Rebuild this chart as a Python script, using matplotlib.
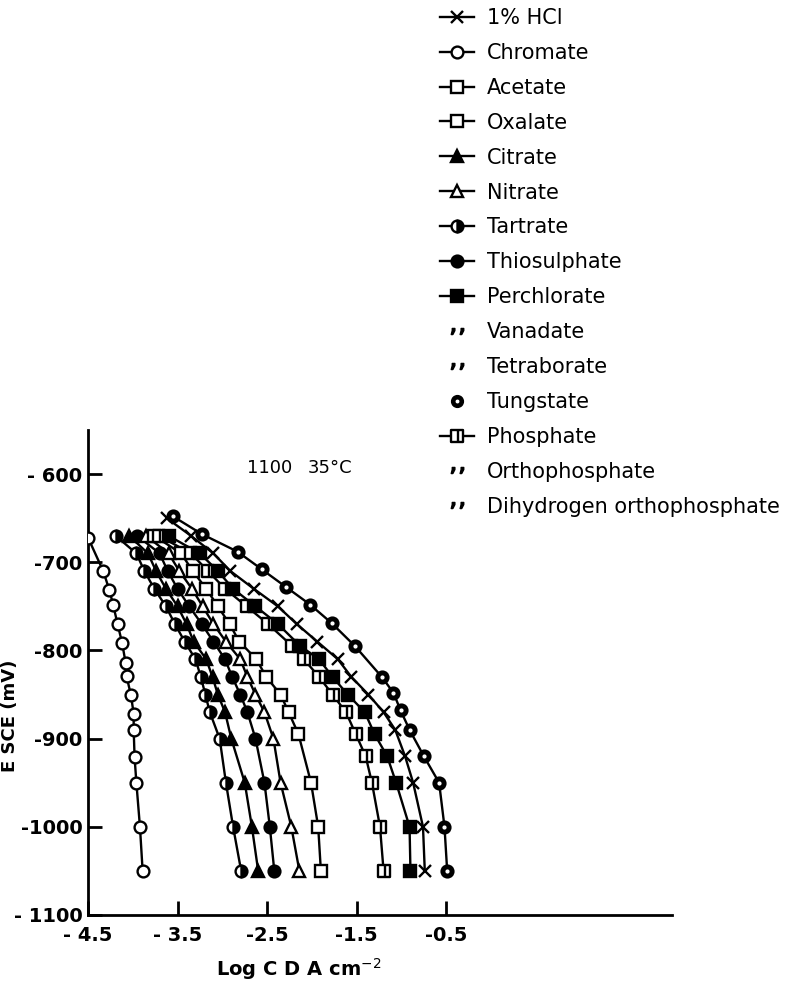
import matplotlib
matplotlib.use("Agg")
import matplotlib.pyplot as plt
from matplotlib.lines import Line2D
from matplotlib.path import Path

plt.rcParams['font.family'] = ['DejaVu Sans']

# potential (mV vs SCE) and log current density for each solution
chromate_e = [-672, -710, -732, -748, -770, -791, -814, -829, -851, -872, -890, -921, -950, -1000, -1050]
chromate_i = [-4.50, -4.33, -4.26, -4.22, -4.17, -4.12, -4.08, -4.07, -4.02, -3.99, -3.99, -3.98, -3.96, -3.92, -3.89]

left_e = [-670, -690, -710, -730, -750, -770, -790, -810, -830, -850, -870, -900, -950, -1000, -1050]
tartrate_i = [-4.19, -3.96, -3.87, -3.76, -3.63, -3.53, -3.42, -3.30, -3.24, -3.19, -3.14, -3.03, -2.96, -2.88, -2.79]
citrate_i = [-4.04, -3.83, -3.74, -3.63, -3.50, -3.40, -3.32, -3.18, -3.11, -3.05, -2.97, -2.90, -2.75, -2.67, -2.60]
thio_i = [-3.95, -3.70, -3.61, -3.50, -3.37, -3.23, -3.10, -2.97, -2.89, -2.80, -2.72, -2.63, -2.53, -2.47, -2.42]
nitrate_i = [-3.85, -3.60, -3.48, -3.34, -3.22, -3.10, -2.96, -2.80, -2.72, -2.63, -2.53, -2.43, -2.35, -2.23, -2.14]

oxalate_e = [-670, -690, -710, -730, -750, -770, -790, -810, -830, -850, -870, -895, -950, -1000, -1050]
oxalate_i = [-3.76, -3.46, -3.33, -3.18, -3.05, -2.92, -2.81, -2.62, -2.51, -2.35, -2.26, -2.15, -2.01, -1.93, -1.90]

right_e = [-670, -690, -710, -730, -750, -770, -795, -810, -830, -850, -870, -895, -920, -950, -1000, -1050]
phosphate_i = [-3.71, -3.35, -3.16, -2.97, -2.73, -2.49, -2.22, -2.09, -1.92, -1.77, -1.62, -1.51, -1.40, -1.33, -1.24, -1.20]
perchlorate_i = [-3.60, -3.25, -3.05, -2.88, -2.63, -2.38, -2.13, -1.92, -1.77, -1.60, -1.41, -1.30, -1.16, -1.06, -0.91, -0.90]

hcl_e = [-650, -670, -690, -710, -730, -750, -770, -790, -810, -830, -850, -870, -890, -920, -950, -1000, -1050]
hcl_i = [-3.62, -3.35, -3.10, -2.91, -2.65, -2.38, -2.17, -1.94, -1.71, -1.56, -1.37, -1.20, -1.07, -0.96, -0.87, -0.76, -0.74]

tungstate_e = [-648, -668, -688, -708, -728, -748, -769, -795, -830, -848, -868, -890, -920, -950, -1000, -1050]
tungstate_i = [-3.55, -3.23, -2.83, -2.56, -2.29, -2.02, -1.78, -1.52, -1.22, -1.09, -1.01, -0.91, -0.75, -0.58, -0.52, -0.49]

y_ticks = [-600, -700, -800, -900, -1000, -1100]
y_labels = ['- 600', '-700', '-800', '-900', '-1000', '- 1100']
x_ticks = [-4.5, -3.5, -2.5, -1.5, -0.5]
x_labels = ['- 4.5', '- 3.5', '-2.5', '-1.5', '-0.5']

legend_names = ['1% HCl', 'Chromate', 'Acetate', 'Oxalate', 'Citrate', 'Nitrate',
                'Tartrate', 'Thiosulphate', 'Perchlorate', 'Vanadate', 'Tetraborate',
                'Tungstate', 'Phosphate', 'Orthophosphate', 'Dihydrogen orthophosphate']

# square with a bar inside, used for phosphate
bar_square = Path([(-1, -1), (1, -1), (1, 1), (-1, 1), (-1, -1), (0.25, -1), (0.25, 1)],
                  [Path.MOVETO, Path.LINETO, Path.LINETO, Path.LINETO, Path.CLOSEPOLY,
                   Path.MOVETO, Path.LINETO])

LW = 1.7
MS = 8.5
styles = {
    'chromate': dict(marker='o', mfc='white'),
    'tartrate': dict(marker='o', mfc='black', fillstyle='right', mfcalt='white'),
    'citrate': dict(marker='^', mfc='black'),
    'thio': dict(marker='o', mfc='black'),
    'nitrate': dict(marker='^', mfc='white'),
    'oxalate': dict(marker='s', mfc='white'),
    'phosphate': dict(marker=bar_square, mfc='white'),
    'perchlorate': dict(marker='s', mfc='black'),
    'hcl': dict(marker='x', mfc='black'),
    'tungstate': dict(marker='o', mfc='black'),
}

series = [
    ('chromate', chromate_i, chromate_e),
    ('tartrate', tartrate_i, left_e),
    ('citrate', citrate_i, left_e),
    ('thio', thio_i, left_e),
    ('nitrate', nitrate_i, left_e),
    ('oxalate', oxalate_i, oxalate_e),
    ('phosphate', phosphate_i, right_e),
    ('perchlorate', perchlorate_i, right_e),
    ('hcl', hcl_i, hcl_e),
    ('tungstate', tungstate_i, tungstate_e),
]

fig = plt.figure(figsize=(7.9, 9.82), dpi=100)
ax = fig.add_axes([88 / 790, 67 / 982, 584 / 790, 485 / 982])

for name, xs, ys in series:
    st = dict(styles[name])
    mfcalt = st.pop('mfcalt', None)
    ax.plot(xs, ys, color='black', lw=LW, zorder=2)
    kw = dict(ls='none', ms=MS, mec='black', mew=LW, zorder=3, **st)
    if mfcalt:
        kw['markerfacecoloralt'] = mfcalt
    ax.plot(xs, ys, **kw)
    if name == 'tungstate':
        ax.plot(xs, ys, ls='none', marker='o', ms=2.0, mfc='white', mec='white', zorder=4)

ax.set_xlim(-4.5, 2.02)
ax.set_ylim(-1100, -550)
for side in ['top', 'right']:
    ax.spines[side].set_visible(False)
for side in ['left', 'bottom']:
    ax.spines[side].set_linewidth(2.0)

ax.set_yticks(y_ticks)
ax.set_yticklabels(y_labels)
ax.set_xticks(x_ticks)
ax.set_xticklabels(x_labels)
ax.tick_params(axis='both', direction='in', length=10, width=2.0, labelsize=14, pad=4)
ax.tick_params(axis='x', pad=8)
for lab in ax.get_xticklabels() + ax.get_yticklabels():
    lab.set_fontweight('bold')

ax.set_xlabel('Log C D A cm$^{-2}$', fontsize=14, fontweight='bold')
ax.xaxis.set_label_coords(0.36, -0.085)
ax.set_ylabel('E SCE (mV)', fontsize=13, fontweight='bold')
ax.yaxis.set_label_coords(-0.118, 0.41)

ax.text(-2.72, -593, '1100', fontsize=13, va='center')
ax.text(-2.05, -593, '35°C', fontsize=13, va='center')

# legend
dot = r'$,\!,$'
handles = [
    Line2D([], [], color='black', lw=LW, marker='x', ms=MS, mew=LW),
    Line2D([], [], color='black', lw=LW, marker='o', ms=MS, mfc='white', mew=LW),
    Line2D([], [], color='black', lw=LW, marker='s', ms=MS, mfc='white', mew=LW),
    Line2D([], [], color='black', lw=LW, marker='s', ms=MS, mfc='white', mew=LW),
    Line2D([], [], color='black', lw=LW, marker='^', ms=MS, mfc='black', mew=LW),
    Line2D([], [], color='black', lw=LW, marker='^', ms=MS, mfc='white', mew=LW),
    Line2D([], [], color='black', lw=LW, marker='o', ms=MS, mfc='black', fillstyle='right',
           markerfacecoloralt='white', mew=LW),
    Line2D([], [], color='black', lw=LW, marker='o', ms=MS, mfc='black', mew=LW),
    Line2D([], [], color='black', lw=LW, marker='s', ms=MS, mfc='black', mew=LW),
    Line2D([], [], ls='none', marker=dot, ms=9, color='black'),
    Line2D([], [], ls='none', marker=dot, ms=9, color='black'),
    (Line2D([], [], ls='none', marker='o', ms=MS, mfc='black', mec='black'),
     Line2D([], [], ls='none', marker='o', ms=1.8, mfc='white', mec='white')),
    Line2D([], [], color='black', lw=LW, marker=bar_square, ms=MS, mfc='white', mew=LW),
    Line2D([], [], ls='none', marker=dot, ms=9, color='black'),
    Line2D([], [], ls='none', marker=dot, ms=9, color='black'),
]
fig.legend(handles, legend_names, loc='upper left', bbox_to_anchor=(438 / 790, 1 - 6 / 982),
           frameon=False, fontsize=15, handlelength=1.63, handletextpad=0.63,
           labelspacing=0.715, borderaxespad=0.0, borderpad=0.1)

fig.savefig('out.png', dpi=100)
